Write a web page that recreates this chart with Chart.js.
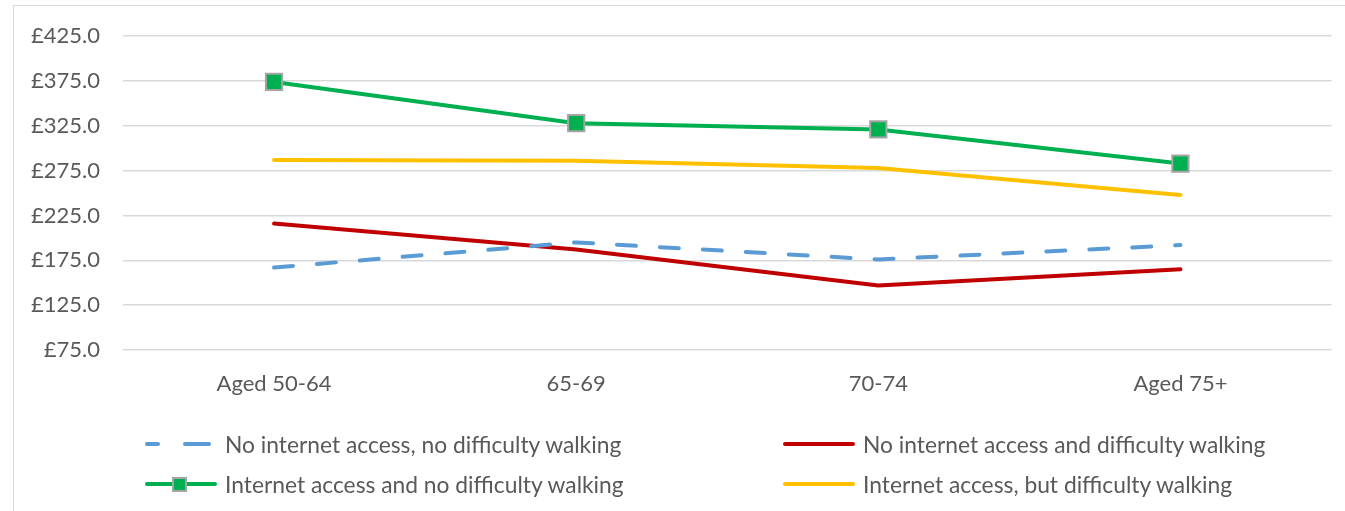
<!DOCTYPE html>
<html>
<head>
<meta charset="utf-8">
<script src="https://cdn.jsdelivr.net/npm/chart.js@4/dist/chart.umd.min.js"></script>
<style>
  html, body { margin: 0; padding: 0; background: #fff; overflow: hidden; }
  #wrap { position: relative; width: 1345px; height: 511px; }
  #frame { position: absolute; left: 13px; top: 5px; width: 1345px; height: 520px;
           border: 1.5px solid #D9D9D9; box-sizing: border-box; }
  #chart { position: absolute; left: 0; top: 0; }
  .leg { position: absolute; height: 24px; display: flex; align-items: center;
         font-family: Lato, "Noto Sans", sans-serif; font-size: 22.8px; color: #595959; white-space: nowrap; }
  .sym { position: relative; width: 74px; height: 24px; margin-right: 8px; }
  .sym span { position: absolute; top: 10px; height: 4px; border-radius: 2px; }
  .sym i { position: absolute; top: 5px; left: 29px; width: 11px; height: 11px;
           border: 2px solid #A5A5A5; background: #00B050; }
</style>
</head>
<body>
<div id="wrap">
  <div id="frame"></div>
  <canvas id="chart" width="1345" height="511"></canvas>
</div>
<script>
// Categorías y series
const categories = ['Aged 50-64', '65-69', '70-74', 'Aged 75+'];
const yTicks = [75, 125, 175, 225, 275, 325, 375, 425];

const noNetNoDiff = [167, 195, 176, 192];
const noNetDiff = [216, 187, 147, 165];
const netNoDiff = [374, 328, 321, 283];
const netDiff = [287, 286, 278, 248];

const seriesNames = [
  'No internet access, no difficulty walking',
  'No internet access and difficulty walking',
  'Internet access and no difficulty walking',
  'Internet access, but difficulty walking'
];

const FONT = 'Lato, "Noto Sans", sans-serif';
const TEXT = '#595959';

const datasets = [
  {
    label: seriesNames[0], data: noNetNoDiff,
    borderColor: '#5B9BD5', borderDash: [19, 24], borderCapStyle: 'round',
    pointRadius: 0
  },
  {
    label: seriesNames[1], data: noNetDiff,
    borderColor: '#C00000', pointRadius: 0
  },
  {
    label: seriesNames[2], data: netNoDiff,
    borderColor: '#00B050', pointStyle: 'rect', pointRadius: 11.5,
    pointBackgroundColor: '#00B050', pointBorderColor: '#A5A5A5', pointBorderWidth: 2
  },
  {
    label: seriesNames[3], data: netDiff,
    borderColor: '#FFC000', pointRadius: 0
  }
].map(d => Object.assign({
  borderWidth: 4, tension: 0, fill: false,
  borderCapStyle: 'round', borderJoinStyle: 'round', pointHoverRadius: 0
}, d));

// el verde se dibuja encima
datasets[2].order = -1;

new Chart(document.getElementById('chart'), {
  type: 'line',
  data: { labels: categories, datasets: datasets },
  options: {
    responsive: false,
    animation: false,
    layout: { padding: { left: 0, right: 10, top: 35, bottom: 101 } },
    plugins: { legend: { display: false }, tooltip: { enabled: false } },
    scales: {
      x: {
        offset: true,
        grid: { display: false, drawTicks: false },
        border: { display: false },
        ticks: { color: TEXT, font: { family: FONT, size: 22 }, padding: 21, maxRotation: 0 },
        afterFit: s => { s.height = 60; }
      },
      y: {
        min: 75, max: 425,
        afterBuildTicks: s => { s.ticks = yTicks.map(v => ({ value: v })); },
        grid: { color: '#D9D9D9', lineWidth: 1.5, drawTicks: false },
        border: { display: false },
        ticks: {
          color: TEXT, font: { family: FONT, size: 22 }, padding: 23,
          callback: v => '£' + Number(v).toFixed(1)
        },
        afterFit: s => { s.width = 123; }
      }
    }
  }
});

// Leyenda en dos columnas
const legendPos = [
  { left: 143, top: 432 },
  { left: 781, top: 432 },
  { left: 143, top: 472 },
  { left: 781, top: 472 }
];
const wrap = document.getElementById('wrap');
datasets.forEach((d, i) => {
  const item = document.createElement('div');
  item.className = 'leg';
  item.style.left = legendPos[i].left + 'px';
  item.style.top = legendPos[i].top + 'px';
  const sym = document.createElement('div');
  sym.className = 'sym';
  if (d.borderDash) {
    sym.innerHTML = '<span style="left:2px;width:15px;background:' + d.borderColor + '"></span>' +
                    '<span style="left:40px;width:28px;background:' + d.borderColor + '"></span>';
  } else {
    sym.innerHTML = '<span style="left:2px;width:72px;background:' + d.borderColor + '"></span>' +
                    (d.pointStyle === 'rect' ? '<i></i>' : '');
  }
  const txt = document.createElement('span');
  txt.textContent = d.label;
  item.appendChild(sym);
  item.appendChild(txt);
  wrap.appendChild(item);
});
</script>
</body>
</html>
